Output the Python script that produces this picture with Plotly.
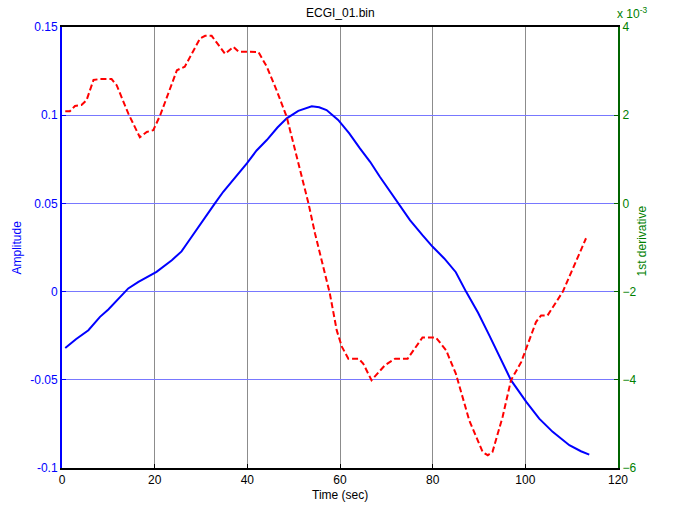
import plotly.graph_objects as go

# Amplitude (left axis)
amp_t = [0.7, 3.0, 5.7, 8.2, 10.0, 12.0, 14.3, 16.5, 20.4, 23.7, 25.8, 26.9, 30.0, 33.0, 34.8,
         37.5, 39.9, 42.0, 44.2, 46.5, 48.5, 51.0, 53.9, 55.5, 57.1, 59.6, 62.0, 64.3, 66.5,
         68.6, 70.5, 72.6, 75.1, 77.8, 80.0, 82.5, 85.0, 87.2, 89.8, 92.2, 94.5, 96.9, 100.2,
         103.0, 105.9, 109.5, 112.0, 113.8]
amp_v = [-0.032, -0.027, -0.0219, -0.0143, -0.0101, -0.0045, 0.0018, 0.0055, 0.0112, 0.0178,
         0.0228, 0.027, 0.039, 0.050, 0.0566, 0.065, 0.0727, 0.080, 0.0859, 0.093, 0.0982,
         0.1025, 0.1050, 0.1045, 0.1029, 0.0973, 0.0897, 0.0812, 0.0736, 0.0651, 0.058, 0.050,
         0.0405, 0.032, 0.0254, 0.0188, 0.011, 0.000, -0.012, -0.0247, -0.037, -0.0502,
         -0.0625, -0.072, -0.0795, -0.0871, -0.0905, -0.0924]

# 1st derivative (right axis, x 10^-3)
der_t = [0.7, 1.7, 2.8, 4.2, 5.3, 6.8, 8.2, 10.7, 11.8, 14.3, 16.8, 18.3, 19.7, 21.2, 24.8,
         26.5, 29.8, 30.9, 32.3, 33.7, 35.2, 37.0, 38.1, 39.9, 42.4, 44.2, 46.3, 48.5, 50.7,
         53.2, 54.6, 56.4, 57.8, 59.3, 60.4, 61.8, 64.0, 65.0, 66.8, 69.7, 71.9, 74.6, 77.8,
         80.7, 82.9, 85.0, 87.9, 90.8, 91.9, 92.9, 95.1, 96.9, 99.1, 102.3, 103.4, 104.8,
         108.1, 112.0, 113.1]
der_v = [2.09, 2.09, 2.21, 2.23, 2.34, 2.80, 2.82, 2.82, 2.68, 2.04, 1.50, 1.62, 1.66, 2.00,
         3.02, 3.10, 3.74, 3.80, 3.80, 3.59, 3.39, 3.55, 3.44, 3.44, 3.43, 3.10, 2.57, 1.96,
         1.06, 0.00, -0.68, -1.44, -2.04, -2.88, -3.25, -3.52, -3.52, -3.63, -4.01, -3.67,
         -3.52, -3.52, -3.04, -3.04, -3.33, -3.86, -4.92, -5.64, -5.71, -5.64, -4.84, -4.01,
         -3.60, -2.69, -2.54, -2.54, -2.00, -1.06, -0.79]

x_ticks = [0, 20, 40, 60, 80, 100, 120]
amp_ticks = [-0.1, -0.05, 0, 0.05, 0.1, 0.15]
amp_labels = ["-0.1", "-0.05", "0", "0.05", "0.1", "0.15"]
der_ticks = [-6, -4, -2, 0, 2, 4]

BLUE = "rgb(0,0,255)"
RED = "rgb(255,0,0)"
GREEN = "rgb(0,128,0)"
DKGREEN = "rgb(0,100,0)"
FONT = "Liberation Sans, Arial, sans-serif"

fig = go.Figure()
fig.add_trace(go.Scatter(x=amp_t, y=amp_v, mode="lines",
                         line=dict(color=BLUE, width=2), yaxis="y", showlegend=False))
fig.add_trace(go.Scatter(x=der_t, y=der_v, mode="lines",
                         line=dict(color=RED, width=2, dash="6px,3px"), yaxis="y2",
                         showlegend=False))

fig.update_layout(
    width=676, height=508,
    margin=dict(l=62, r=58, t=27, b=40, autoexpand=False),
    paper_bgcolor="white", plot_bgcolor="white",
    font=dict(family=FONT, size=12, color="black"),
    xaxis=dict(range=[0, 120], tickvals=x_ticks, showgrid=True, automargin=False,
               gridcolor="rgb(140,140,140)", gridwidth=1, zeroline=False,
               showline=True, linecolor="black", linewidth=2, mirror=True,
               ticks="inside", ticklen=4, tickcolor="black",
               tickfont=dict(size=12, color="black")),
    yaxis=dict(range=[-0.1, 0.15], tickvals=amp_ticks, ticktext=amp_labels, automargin=False,
               showgrid=True, gridcolor="rgb(120,120,255)", gridwidth=1, zeroline=False,
               showline=True, linecolor=BLUE, linewidth=2,
               ticks="inside", ticklen=4, tickcolor=BLUE,
               tickfont=dict(size=12, color=BLUE)),
    yaxis2=dict(range=[-6, 4], tickvals=der_ticks, overlaying="y", side="right",
                showgrid=False, zeroline=False, automargin=False,
                showline=True, linecolor=DKGREEN, linewidth=2,
                ticks="inside", ticklen=4, tickcolor=DKGREEN,
                tickfont=dict(size=12, color=GREEN)),
    annotations=[
        dict(text="ECGI_01.bin", x=0.5, xref="paper", y=1.0, yref="paper",
             xanchor="center", yanchor="middle", yshift=14, showarrow=False,
             font=dict(size=12, color="black")),
        dict(text="Time (sec)", x=0.5, xref="paper", y=0.0, yref="paper",
             xanchor="center", yanchor="middle", yshift=-27, showarrow=False,
             font=dict(size=12, color="black")),
        dict(text="Amplitude", x=0.0, xref="paper", y=0.5, yref="paper",
             xanchor="center", yanchor="middle", xshift=-46, textangle=-90, showarrow=False,
             font=dict(size=12, color=BLUE)),
        dict(text="1st derivative", x=1.0, xref="paper", y=0.5, yref="paper",
             xanchor="center", yanchor="middle", xshift=23, yshift=6, textangle=-90,
             showarrow=False, font=dict(size=12, color=GREEN)),
        dict(text="x 10<sup>-3</sup>", x=1.0, xref="paper", y=1.0, yref="paper",
             xanchor="left", yanchor="bottom", showarrow=False, xshift=-3, yshift=4,
             font=dict(size=12, color=GREEN)),
    ],
)

# remove the page's default body margin so the figure fills the window exactly
fig.write_html("out.html", config={"displayModeBar": False},
               post_script="document.body.style.margin='0';")
